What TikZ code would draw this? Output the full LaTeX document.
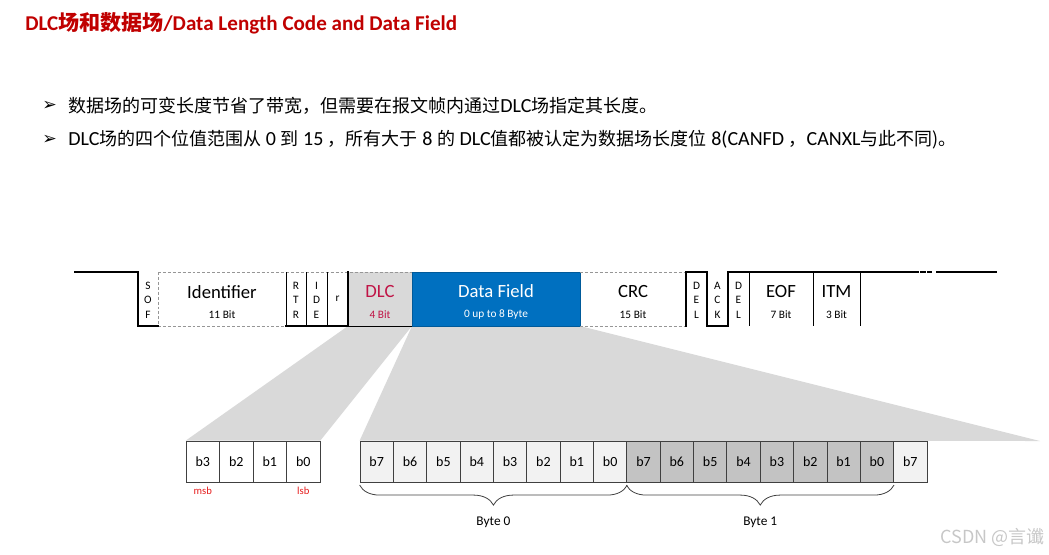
\documentclass[tikz,border=0pt]{standalone}
\usepackage{fontspec}
\setmainfont{Carlito}
\newfontfamily\cjk{Noto Sans CJK SC}
\newfontfamily\symb{DejaVu Sans}
\newcommand\zh[1]{{\cjk\fontsize{13.5}{14}\selectfont #1}}
\usetikzlibrary{positioning, backgrounds, calc, decorations.pathreplacing}
\definecolor{TitleRed}{RGB}{192, 0, 0}
\definecolor{DlcRed}{RGB}{192, 20, 70}
\definecolor{MarkRed}{RGB}{230, 30, 30}
\definecolor{FieldBlue}{RGB}{0, 112, 192}
\definecolor{ZoomGray}{RGB}{217, 217, 217}
\definecolor{ByteGray}{RGB}{195, 195, 195}
\definecolor{BitWhite}{RGB}{242, 242, 242}
\definecolor{DashGray}{RGB}{150, 150, 150}
\definecolor{InkGray}{RGB}{64, 64, 64}

\begin{document}
\begin{tikzpicture}[x=0.75pt, y=-0.75pt,
                    field/.style={inner sep=0pt, outer sep=0pt, minimum height=40.5pt},
                    fieldtext/.style={inner sep=0pt, align=center, font=\fontsize{14}{14.5}\selectfont},
                    narrow/.style={field, align=center, font=\fontsize{8.5}{10.8}\selectfont},
                    signal/.style={line width=1.5pt, line cap=rect},
                    dashline/.style={DashGray, line width=0.75pt, dash pattern=on 2.2pt off 1.5pt},
                    edge/.style={black, line width=0.6pt},
                    bitbox/.style={draw=InkGray, line width=0.6pt, minimum width=25pt, minimum height=30.75pt, inner sep=0pt, font=\fontsize{10.5}{11}\selectfont},
                    brace/.style={InkGray, line width=0.6pt, decorate, decoration={brace, mirror, amplitude=15pt}},
                    bullet/.style={anchor=west, inner sep=0pt, font=\fontsize{15}{15}\selectfont}
                ]
    \useasboundingbox (0,0) rectangle (1049,554);

    % title and bullets
    \node[anchor=west, inner sep=0pt, text=TitleRed, font=\fontsize{15.8}{16}\selectfont\bfseries] (title) at (25,23)
        {DLC{\cjk\bfseries 场和数据场}/Data Length Code and Data Field};
    \node[bullet, font=\symb\fontsize{13}{14}\selectfont] (arrow1) at (42,106) {➢};
    \node[bullet] (line1) at (68,106)
        {\zh{数据场的可变长度节省了带宽，但需要在报文帧内通过}DLC\zh{场指定其长度。}};
    \node[bullet, font=\symb\fontsize{13}{14}\selectfont] (arrow2) at (42,140) {➢};
    \node[bullet] (line2) at (68,140)
        {DLC\zh{场的四个位值范围从} 0 \zh{到} 15 \zh{，所有大于} 8 \zh{的} DLC\zh{值都被认定为数据场长度位} 8(CANFD \zh{，}CANXL\zh{与此不同)。}};

    % frame fields
    \node[narrow, minimum width=15pt] (sof) at (148,300) {S\\O\\F};
    \node[field, minimum width=96pt] (ident) at (222,299) {};
    \node[narrow, minimum width=15pt] (rtr) at (296,300) {R\\T\\R};
    \node[narrow, minimum width=15.75pt] (ide) at (316.5,300) {I\\D\\E};
    \node[narrow, minimum width=15.75pt] (res) at (337.5,299) {r};
    \node[field, minimum width=48pt, fill=ZoomGray] (dlc) at (380,299) {};
    \node[field, minimum width=126pt, fill=FieldBlue, draw=FieldBlue!80!black] (data) at (496,299) {};
    \node[field, minimum width=79.5pt] (crc) at (633,299) {};
    \node[narrow, minimum width=15.75pt] (crcdel) at (696.5,300) {D\\E\\L};
    \node[narrow, minimum width=15.75pt] (ack) at (717.5,300) {A\\C\\K};
    \node[narrow, minimum width=15.75pt] (ackdel) at (738.5,300) {D\\E\\L};
    \node[field, minimum width=48pt] (eof) at (781,299) {};
    \node[field, minimum width=35.25pt] (itm) at (836.5,299) {};

    \node[fieldtext] (identname) at ([yshift=-2.25pt]ident) {Identifier\\[1pt]{\fontsize{8.5}{10}\selectfont 11 Bit}};
    \node[fieldtext, text=DlcRed] (dlcname) at ([yshift=-2.25pt]dlc) {DLC\\[1pt]{\fontsize{8.5}{10}\selectfont 4 Bit}};
    \node[fieldtext, text=white] (dataname) at ([yshift=-2.25pt]data) {Data Field\\[1pt]{\fontsize{8.5}{10}\selectfont 0 up to 8 Byte}};
    \node[fieldtext] (crcname) at ([yshift=-2.25pt]crc) {CRC\\[1pt]{\fontsize{8.5}{10}\selectfont 15 Bit}};
    \node[fieldtext] (eofname) at ([yshift=-2.25pt]eof) {EOF\\[1pt]{\fontsize{8.5}{10}\selectfont 7 Bit}};
    \node[fieldtext] (itmname) at ([yshift=-2.25pt]itm) {ITM\\[1pt]{\fontsize{8.5}{10}\selectfont 3 Bit}};

    \coordinate (idle) at (75,272);
    \coordinate (busend) at (918,272);
    \coordinate (gapa) at (921,272);
    \coordinate (gapb) at (925,272);
    \coordinate (gapc) at (928,272);
    \coordinate (gapd) at (931,272);
    \coordinate (resume) at (937,272);
    \coordinate (idleend) at (996,272);

    % unknown levels
    \draw[dashline] (ident.north west) -- (data.north west);
    \draw[dashline] (crc.north west) -- (crc.north east);
    \draw[dashline] (ident.south west) -- (ident.south east);
    \draw[dashline] (crc.south west) -- (crc.south east);
    \draw[dashline] (ident.north west) -- (ident.south west);

    % field edges
    \draw[edge] (rtr.north west |- ident.north) -- (rtr.west |- ident.south);
    \draw[edge] (ide.north west |- ident.north) -- (ide.west |- ident.south);
    \draw[edge] (res.north west) -- (res.south west);
    \draw[edge] (dlc.south west) -- (dlc.south east);
    \draw[edge] (eof.north west) -- (eof.south west);
    \draw[edge] (itm.north west) -- (itm.south west);
    \draw[edge] (itm.north east) -- (itm.south east);

    % bus level
    \draw[signal] (idle) -- (sof.west |- idle) -- (sof.west |- ident.south) -- (ident.south west);
    \draw[signal] (rtr.west |- ident.south) -- (res.south east) -- (res.north east);
    \draw[signal] (crcdel.west |- ident.south) -- (crcdel.west |- idle) -- (crcdel.east |- idle) -- (ack.west |- ident.south)
        -- (ack.east |- ident.south) -- (ackdel.west |- idle) -- (busend);
    \draw[signal] (gapa) -- (gapb);
    \draw[signal] (gapc) -- (gapd);
    \draw[signal] (resume) -- (idleend);

    % DLC bits
    \foreach \i in {0,...,3}{
        \pgfmathtruncatemacro{\bit}{3-\i}
        \node[bitbox, fill=white] (dlc\bit) at ({202.75+33.5*\i},461.5) {b\bit};
    }
    \node[text=MarkRed, font=\fontsize{8}{9}\selectfont, below=0pt of dlc3] (msb) {msb};
    \node[text=MarkRed, font=\fontsize{8}{9}\selectfont, below=0pt of dlc0] (lsb) {lsb};

    % data bits
    \foreach \i in {0,...,16}{
        \pgfmathtruncatemacro{\bit}{7-mod(\i,8)}
        \ifnum\i>7 \ifnum\i<16 \def\bg{ByteGray}\else\def\bg{BitWhite}\fi \else\def\bg{BitWhite}\fi
        \node[bitbox, fill=\bg] (d\i) at ({376.7+33.35*\i},461.5) {b\bit};
    }
    \coordinate (zoomend) at (1040,441);

    % zoom wedges
    \begin{scope}[on background layer]
        \fill[ZoomGray] (dlc.south west) -- (dlc.south east) -- (dlc0.north east) -- (dlc3.north west) -- cycle;
        \fill[ZoomGray] (data.south west) -- (data.south east) -- (zoomend) -- (d0.north west) -- cycle;
    \end{scope}

    % bytes
    \draw[brace] ([yshift=-2pt]d0.south west) -- ([yshift=-2pt]d7.south east)
        node[midway, below=20pt, text=black, font=\fontsize{10}{11}\selectfont] (byte0) {Byte 0};
    \draw[brace] ([yshift=-2pt]d8.south west) -- ([yshift=-2pt]d15.south east)
        node[midway, below=20pt, text=black, font=\fontsize{10}{11}\selectfont] (byte1) {Byte 1};

    \node[anchor=east, inner sep=0pt, text=black!22, font=\cjk\fontsize{13.5}{14}\selectfont] (mark) at (1045,537) {CSDN @言谶};
\end{tikzpicture}
\end{document}
